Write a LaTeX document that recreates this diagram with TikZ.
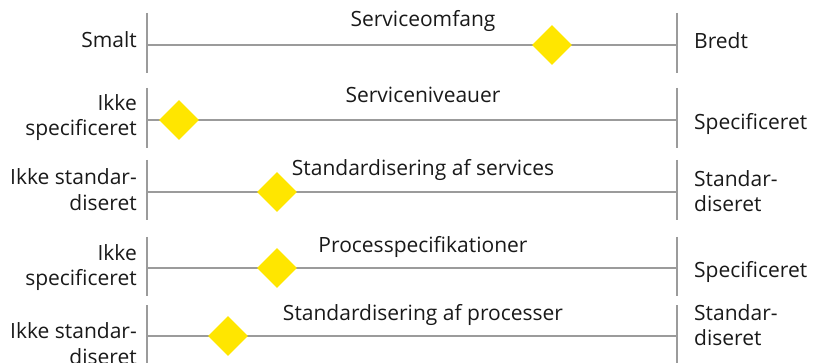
\documentclass[tikz,border=0pt]{standalone}
\usepackage{fontspec}
\setmainfont{Open Sans}
\usepackage{tikz}
\usetikzlibrary{shapes.geometric}
\definecolor{eyyellow}{RGB}{255,230,0}
\definecolor{axisgray}{RGB}{155,155,155}

\begin{document}
\begin{tikzpicture}[x=1pt, y=-1pt,
		axis/.style={draw=axisgray, line width=1.3pt},
		marker/.style={diamond, fill=eyyellow, minimum width=40pt,
			minimum height=40pt, inner sep=0pt},
		txt/.style={font=\fontsize{21}{25.5}\selectfont, text=black!90,
			inner sep=0pt},
		lft/.style={txt, align=right},
		rgt/.style={txt, align=left}
		]
		\useasboundingbox (0,0) rectangle (813,363);
		% the five scales: end bars and middle line
		\foreach \r/\t/\m/\b in {1/13/45/73, 2/88/120/148, 3/160/192/220,
				4/237/268/296, 5/305/336/363} {
			\coordinate (lt\r) at (147,\t);
			\coordinate (lb\r) at (147,\b);
			\coordinate (rt\r) at (677,\t);
			\coordinate (rb\r) at (677,\b);
			\coordinate (lm\r) at (147,\m);
			\coordinate (rm\r) at (677,\m);
			\draw[axis] (lt\r) -- (lb\r);
			\draw[axis] (rt\r) -- (rb\r);
			\draw[axis] (lm\r) -- (rm\r);
		}
		% titles
		\node[txt, anchor=base] (t1) at (423,27) {Serviceomfang};
		\node[txt, anchor=base] (t2) at (423,103) {Serviceniveauer};
		\node[txt, anchor=base] (t3) at (423,176) {Standardisering af services};
		\node[txt, anchor=base] (t4) at (423,252) {Processpecifikationer};
		\node[txt, anchor=base] (t5) at (423,320) {Standardisering af processer};
		% left ends
		\node[lft, anchor=base east] (l1) at (137,48) {Smalt};
		\node[lft, anchor=east] (l2) at (137,117.5) {Ikke\\specificeret};
		\node[lft, anchor=east] (l3) at (137,189.5) {Ikke standar-\\diseret};
		\node[lft, anchor=east] (l4) at (137,267.5) {Ikke\\specificeret};
		\node[lft, anchor=east] (l5) at (137,343.5) {Ikke standar-\\diseret};
		% right ends
		\node[rgt, anchor=base west] (r1) at (694,49) {Bredt};
		\node[rgt, anchor=base west] (r2) at (694,130) {Specificeret};
		\node[rgt, anchor=west] (r3) at (694,191) {Standar-\\diseret};
		\node[rgt, anchor=base west] (r4) at (694,277) {Specificeret};
		\node[rgt, anchor=west] (r5) at (694,325) {Standar-\\diseret};
		% positions on the scales
		\node[marker] (d1) at (552,45) {};
		\node[marker] (d2) at (179,120) {};
		\node[marker] (d3) at (277,192) {};
		\node[marker] (d4) at (277,268) {};
		\node[marker] (d5) at (228,336) {};
\end{tikzpicture}
\end{document}
